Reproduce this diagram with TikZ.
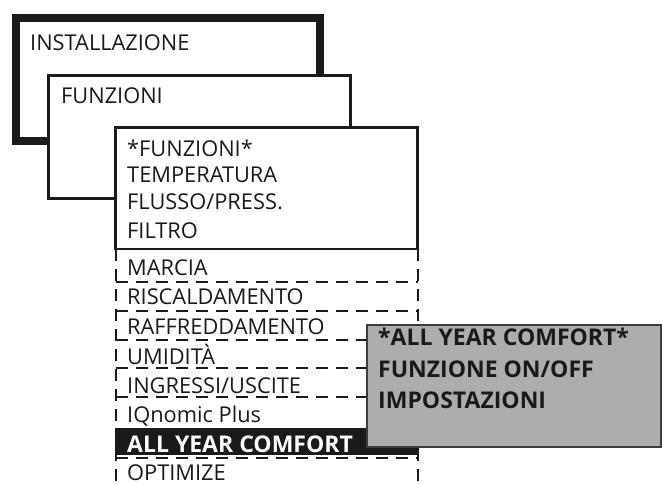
\documentclass[tikz,border=0pt]{standalone}
\usepackage{fontspec}
\setmainfont{Open Sans}
\definecolor{ink}{HTML}{1A1A1A}
\definecolor{panelgray}{HTML}{ADADAD}
\begin{document}
\begin{tikzpicture}[x=1pt,y=-1pt,
  txt/.style={anchor=base west, inner sep=0pt, font=\fontsize{21.8}{26}\selectfont, text=ink},
  btxt/.style={anchor=base west, inner sep=0pt, font=\fontsize{23}{26}\selectfont\bfseries, text=ink},
  rowline/.style={dash pattern=on 12pt off 8pt, line width=2pt, draw=ink},
  menubox/.style={draw=ink, fill=white}]
\useasboundingbox (0,0) rectangle (662,484);
% level boxes
\draw[menubox, line width=8pt] (16,18) rectangle (319.5,141.5);
\node[txt] (inst) at (30,51) {INSTALLAZIONE};
\draw[menubox, line width=2.8pt] (48.5,75.5) rectangle (350.5,198.5);
\node[txt] (funz) at (61,104) {FUNZIONI};
\draw[menubox, line width=2.5pt] (115.5,127.5) rectangle (417.5,249);
\node[txt] (f0) at (127,157) {*FUNZIONI*};
\node[txt] (f1) at (127,183) {TEMPERATURA};
\node[txt] (f2) at (127,210) {FLUSSO/PRESS.};
\node[txt] (f3) at (127,238) {FILTRO};
% dashed list
\draw[rowline] (115.5,249) -- (115.5,484);
\draw[rowline] (417.5,249) -- (417.5,484);
\foreach \yy in {282,311,339.5,368,396.5,458}
  \draw[rowline] (115.5,\yy) -- (417.5,\yy);
\fill[ink] (115,427.5) rectangle (418.5,455);
\node[txt] (r1) at (127,275) {MARCIA};
\node[txt] (r2) at (127,305) {RISCALDAMENTO};
\node[txt] (r3) at (127,334) {RAFFREDDAMENTO};
\node[txt] (r4) at (127,364) {UMIDITÀ};
\node[txt] (r5) at (127,393) {INGRESSI/USCITE};
\node[txt] (r6) at (127,422) {IQnomic Plus};
\node[btxt, text=white] (r7) at (127,452) {ALL YEAR COMFORT};
\node[txt] (r8) at (127,480) {OPTIMIZE};
% submenu panel
\draw[draw=ink!85, fill=panelgray, line width=2pt] (367,325) rectangle (661,447);
\node[btxt] (p1) at (378,345) {*ALL YEAR COMFORT*};
\node[btxt] (p2) at (378,377) {FUNZIONE ON/OFF};
\node[btxt] (p3) at (378,408) {IMPOSTAZIONI};
\end{tikzpicture}
\end{document}
